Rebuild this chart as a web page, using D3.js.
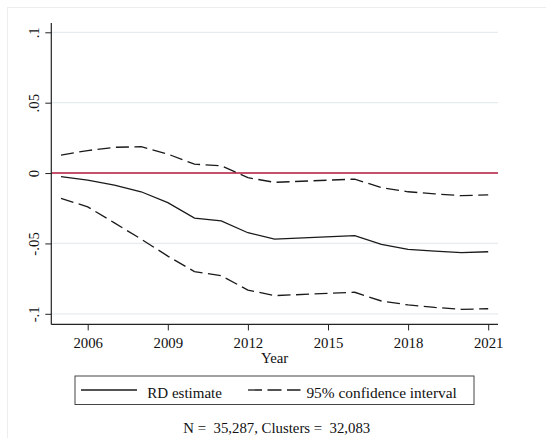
<!DOCTYPE html>
<html>
<head>
<meta charset="utf-8">
<script src="https://cdn.jsdelivr.net/npm/d3@7/dist/d3.min.js"></script>
<style>
  html, body { margin: 0; padding: 0; background: #fff; }
  svg { display: block; }
</style>
</head>
<body>
<svg id="chart" width="546" height="438" xml:space="preserve"></svg>
<script>
// Years with estimates (no estimates for 2014-2015)
const years = [2005, 2006, 2007, 2008, 2009, 2010, 2011, 2012, 2013, 2016, 2017, 2018, 2019, 2020, 2021];
// Regression-discontinuity point estimates
const rdEstimate = [-0.0026, -0.0050, -0.0085, -0.0133, -0.0210, -0.0320, -0.0340, -0.0424, -0.0469, -0.0445, -0.0507, -0.0542, -0.0555, -0.0566, -0.0559];
// 95% confidence bounds
const ciUpper = [0.0128, 0.0160, 0.0183, 0.0187, 0.0135, 0.0063, 0.0052, -0.0033, -0.0066, -0.0043, -0.0104, -0.0133, -0.0148, -0.0161, -0.0155];
const ciLower = [-0.0180, -0.0240, -0.0354, -0.0469, -0.0590, -0.0700, -0.0729, -0.0831, -0.0871, -0.0847, -0.0909, -0.0937, -0.0955, -0.0968, -0.0964];

const xTickValues = [2006, 2009, 2012, 2015, 2018, 2021];
const yTickValues = [-0.1, -0.05, 0, 0.05, 0.1];
const yTickLabels = ["-.1", "-.05", "0", ".05", ".1"];
const legendLabels = ["RD estimate", "95% confidence interval"];
const xTitle = "Year";
const noteText = "N =  35,287, Clusters =  32,083";

const FONT = "'Liberation Serif', 'Times New Roman', Tinos, 'DejaVu Serif', serif";
const INK = "#111";

const svg = d3.select("#chart");

// Plot region
const plot = { left: 51.3, right: 498, top: 23, bottom: 324.4 };

const x = d3.scaleLinear().domain([2005, 2021]).range([61, 488.2]);
const y = d3.scaleLinear().domain([-0.1, 0.1]).range([313.8, 32.3]);

function styleText(sel, size) {
  sel.style("font-family", FONT).style("font-size", size).style("fill", INK);
}

// Faint outer frame of the graph region
svg.append("rect")
  .attr("x", 7.5).attr("y", 7.5)
  .attr("width", 580).attr("height", 460)
  .attr("fill", "none").attr("stroke", "#ededed").attr("stroke-width", 1);

// Horizontal grid lines
svg.append("g").selectAll("line")
  .data(yTickValues.filter(v => v !== 0))
  .join("line")
  .attr("x1", plot.left).attr("x2", plot.right)
  .attr("y1", d => y(d)).attr("y2", d => y(d))
  .attr("stroke", "#e4ecf0").attr("stroke-width", 1.2);

// Reference line at zero
svg.append("line")
  .attr("x1", plot.left).attr("x2", plot.right)
  .attr("y1", y(0)).attr("y2", y(0))
  .attr("stroke", "#b3173c").attr("stroke-width", 1.4);

const line = d3.line()
  .x((d, i) => x(years[i]))
  .y(d => y(d));

const dash = "13,5.5";

svg.append("path").datum(ciUpper)
  .attr("d", line).attr("fill", "none")
  .attr("stroke", "#1a1a1a").attr("stroke-width", 1.3)
  .attr("stroke-dasharray", dash);

svg.append("path").datum(ciLower)
  .attr("d", line).attr("fill", "none")
  .attr("stroke", "#1a1a1a").attr("stroke-width", 1.3)
  .attr("stroke-dasharray", dash);

svg.append("path").datum(rdEstimate)
  .attr("d", line).attr("fill", "none")
  .attr("stroke", "#1a1a1a").attr("stroke-width", 1.3);

// Axes
const xAxis = d3.axisBottom(x)
  .tickValues(xTickValues)
  .tickFormat(d3.format("d"))
  .tickSizeInner(6).tickSizeOuter(0).tickPadding(3);

const gx = svg.append("g")
  .attr("transform", `translate(0,${plot.bottom})`)
  .call(xAxis);
gx.attr("font-family", null).attr("font-size", null);
gx.select(".domain").remove();
gx.selectAll(".tick line").attr("stroke", "#222").attr("stroke-width", 1);
gx.selectAll(".tick text")
  .call(styleText, "14.8px")
  .attr("y", 24).attr("dy", 0);

const yAxis = d3.axisLeft(y)
  .tickValues(yTickValues)
  .tickFormat((d, i) => yTickLabels[i])
  .tickSizeInner(6).tickSizeOuter(0);

const gy = svg.append("g")
  .attr("transform", `translate(${plot.left},0)`)
  .call(yAxis);
gy.attr("font-family", null).attr("font-size", null);
gy.select(".domain").remove();
gy.selectAll(".tick line").attr("stroke", "#222").attr("stroke-width", 1);
gy.selectAll(".tick text")
  .call(styleText, "14.8px")
  .attr("text-anchor", "middle")
  .attr("transform", "rotate(-90)")
  .attr("x", 0).attr("y", -12.3).attr("dy", 0);

// Axis lines
svg.append("line")
  .attr("x1", plot.left).attr("x2", plot.left)
  .attr("y1", plot.top).attr("y2", plot.bottom)
  .attr("stroke", "#222").attr("stroke-width", 1.2);
svg.append("line")
  .attr("x1", plot.left).attr("x2", plot.right)
  .attr("y1", plot.bottom).attr("y2", plot.bottom)
  .attr("stroke", "#222").attr("stroke-width", 1.2);

// Axis title
svg.append("text")
  .attr("x", (plot.left + plot.right) / 2).attr("y", 363.2)
  .attr("text-anchor", "middle")
  .call(styleText, "14.8px")
  .text(xTitle);

// Legend
const legend = svg.append("g");
legend.append("rect")
  .attr("x", 75).attr("y", 376)
  .attr("width", 399).attr("height", 28.5)
  .attr("fill", "#fff").attr("stroke", "#444").attr("stroke-width", 1);

legend.append("line")
  .attr("x1", 81).attr("x2", 137).attr("y1", 390).attr("y2", 390)
  .attr("stroke", "#1a1a1a").attr("stroke-width", 1.3);
legend.append("text")
  .attr("x", 147.3).attr("y", 397.5)
  .call(styleText, "15px")
  .text(legendLabels[0]);

legend.append("line")
  .attr("x1", 248).attr("x2", 300.5).attr("y1", 390).attr("y2", 390)
  .attr("stroke", "#1a1a1a").attr("stroke-width", 1.3)
  .attr("stroke-dasharray", "14,5.5");
legend.append("text")
  .attr("x", 306.4).attr("y", 397.5)
  .call(styleText, "15.4px")
  .text(legendLabels[1]);

// Note under the legend
svg.append("text")
  .attr("x", 276.8).attr("y", 433.2)
  .attr("text-anchor", "middle")
  .call(styleText, "14.8px")
  .style("white-space", "pre")
  .text(noteText);
</script>
</body>
</html>
